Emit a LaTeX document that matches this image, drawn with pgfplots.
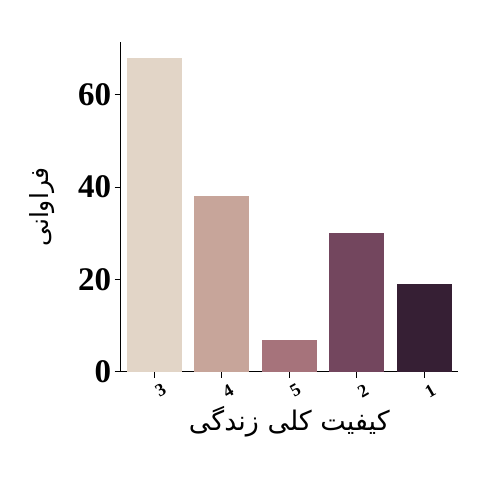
\documentclass[border=0pt]{standalone}
\usepackage{fontspec}
\setmainfont{Liberation Serif}
\newfontfamily\arabicfont[Script=Arabic]{DejaVu Sans}
\usepackage{pgfplots}
\pgfplotsset{compat=1.18}
\TeXXeTstate=1
\definecolor{c1}{HTML}{E2D5C7}
\definecolor{c2}{HTML}{C7A59A}
\definecolor{c3}{HTML}{A6737B}
\definecolor{c4}{HTML}{73465E}
\definecolor{c5}{HTML}{361F34}
\begin{document}
\begin{tikzpicture}[x=1pt,y=1pt]
\path (0,0) rectangle (500,500);
\begin{axis}[
  at={(120.7pt,128pt)}, anchor=south west,
  scale only axis, width=337.3pt, height=330pt,
  xmin=-0.5, xmax=4.5, ymin=0, ymax=71.4,
  axis x line*=bottom, axis y line*=left,
  axis line style={line width=1pt},
  xtick={0,1,2,3,4}, xticklabels={\textbf{3},\textbf{4},\textbf{5},\textbf{2},\textbf{1}},
  ytick={0,20,40,60},
  tick style={black, line width=1pt},
  major tick length=6pt,
  tick align=outside,
  x tick label style={font=\bfseries\fontsize{18}{18}\selectfont, rotate=30, anchor=center, yshift=-14pt, xshift=-1pt},
  y tick label style={font=\bfseries\fontsize{33}{33}\selectfont},
  /pgf/number format/assume math mode=true,
  xlabel={\arabicfont\fontsize{27}{27}\selectfont\beginR کیفیت کلی زندگی\endR},
  ylabel={\arabicfont\fontsize{25}{25}\selectfont\beginR فراوانی\endR},
  xlabel style={at={(axis description cs:0.5,0)}, anchor=center, yshift=-50pt},
  ylabel style={at={(axis description cs:-0.233,0.5)}, anchor=center},
  ybar, bar width=55pt, bar shift=0pt,
]
\addplot[draw=none, fill=c1] coordinates {(0,68)};
\addplot[draw=none, fill=c2] coordinates {(1,38)};
\addplot[draw=none, fill=c3] coordinates {(2,7)};
\addplot[draw=none, fill=c4] coordinates {(3,30)};
\addplot[draw=none, fill=c5] coordinates {(4,19)};
\end{axis}
\end{tikzpicture}
\end{document}
